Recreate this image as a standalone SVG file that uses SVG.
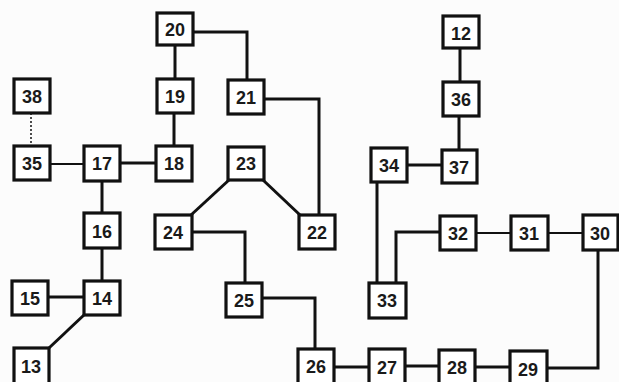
<svg xmlns="http://www.w3.org/2000/svg" width="619" height="382" viewBox="0 0 619 382">
<style>
.n rect{fill:#fff;stroke:#111;stroke-width:3.2}
.n text{font-family:"Liberation Sans",Arial,sans-serif;font-size:18px;font-weight:bold;fill:#1a1a1a;text-anchor:middle;dominant-baseline:central}
.c path{fill:none;stroke:#111;stroke-width:3}
.c .t{stroke-width:2}
.c .d{stroke-width:1.5;stroke-dasharray:2 2}
</style>
<rect width="619" height="382" fill="#fcfcfc"/>
<g class="c">
<path d="M175,45V79"/>
<path d="M174,113V146"/>
<path d="M193,32H247V80"/>
<path d="M264,99H319V215"/>
<path class="d" d="M31,113V146"/>
<path class="t" d="M50,164H84"/>
<path d="M120,163H156"/>
<path d="M102,180V214"/>
<path d="M102,248V281"/>
<path d="M48,297H84"/>
<path d="M85,314L49,348"/>
<path d="M229,180L191,215"/>
<path d="M263,180L300,215"/>
<path d="M191,232H245V283"/>
<path d="M262,298H315V348"/>
<path d="M334,367H369"/>
<path d="M405,366H439"/>
<path d="M475,367H510"/>
<path d="M546,368H598V250"/>
<path d="M440,232H396V283"/>
<path class="t" d="M476,233H511"/>
<path class="t" d="M547,233H583"/>
<path d="M377,182V283"/>
<path d="M407,165H442"/>
<path d="M460,48V82"/>
<path d="M459,116V150"/>
</g>
<g id="n20" class="n"><rect x="157" y="13" width="36" height="32"/><text x="175" y="30">20</text></g>
<g id="n19" class="n"><rect x="157" y="79" width="36" height="34"/><text x="175" y="97">19</text></g>
<g id="n21" class="n"><rect x="228" y="80" width="36" height="34"/><text x="246" y="98">21</text></g>
<g id="n38" class="n"><rect x="14" y="79" width="36" height="34"/><text x="32" y="97">38</text></g>
<g id="n35" class="n"><rect x="14" y="146" width="36" height="34"/><text x="32" y="164">35</text></g>
<g id="n17" class="n"><rect x="84" y="146" width="36" height="35"/><text x="102" y="164">17</text></g>
<g id="n18" class="n"><rect x="156" y="146" width="36" height="35"/><text x="174" y="164">18</text></g>
<g id="n23" class="n"><rect x="228" y="147" width="36" height="33"/><text x="246" y="164">23</text></g>
<g id="n16" class="n"><rect x="84" y="213" width="36" height="35"/><text x="102" y="232">16</text></g>
<g id="n24" class="n"><rect x="155" y="215" width="37" height="34"/><text x="173" y="233">24</text></g>
<g id="n22" class="n"><rect x="299" y="215" width="36" height="34"/><text x="317" y="233">22</text></g>
<g id="n15" class="n"><rect x="12" y="281" width="36" height="34"/><text x="30" y="299">15</text></g>
<g id="n14" class="n"><rect x="84" y="281" width="36" height="34"/><text x="102" y="299">14</text></g>
<g id="n13" class="n"><rect x="14" y="348" width="35" height="36"/><text x="31" y="367">13</text></g>
<g id="n25" class="n"><rect x="226" y="283" width="36" height="34"/><text x="244" y="301">25</text></g>
<g id="n33" class="n"><rect x="369" y="283" width="37" height="35"/><text x="387" y="301">33</text></g>
<g id="n32" class="n"><rect x="440" y="216" width="36" height="34"/><text x="458" y="234">32</text></g>
<g id="n31" class="n"><rect x="511" y="216" width="37" height="34"/><text x="529" y="234">31</text></g>
<g id="n30" class="n"><rect x="583" y="215" width="35" height="35"/><text x="600" y="234">30</text></g>
<g id="n26" class="n"><rect x="298" y="349" width="36" height="36"/><text x="316" y="367">26</text></g>
<g id="n27" class="n"><rect x="369" y="349" width="36" height="36"/><text x="387" y="368">27</text></g>
<g id="n28" class="n"><rect x="439" y="350" width="36" height="36"/><text x="457" y="368">28</text></g>
<g id="n29" class="n"><rect x="510" y="351" width="37" height="36"/><text x="528" y="370">29</text></g>
<g id="n12" class="n"><rect x="443" y="16" width="36" height="32"/><text x="461" y="34">12</text></g>
<g id="n36" class="n"><rect x="443" y="82" width="36" height="34"/><text x="461" y="100">36</text></g>
<g id="n37" class="n"><rect x="442" y="150" width="35" height="33"/><text x="459" y="168">37</text></g>
<g id="n34" class="n"><rect x="371" y="148" width="36" height="34"/><text x="389" y="166">34</text></g>
</svg>
